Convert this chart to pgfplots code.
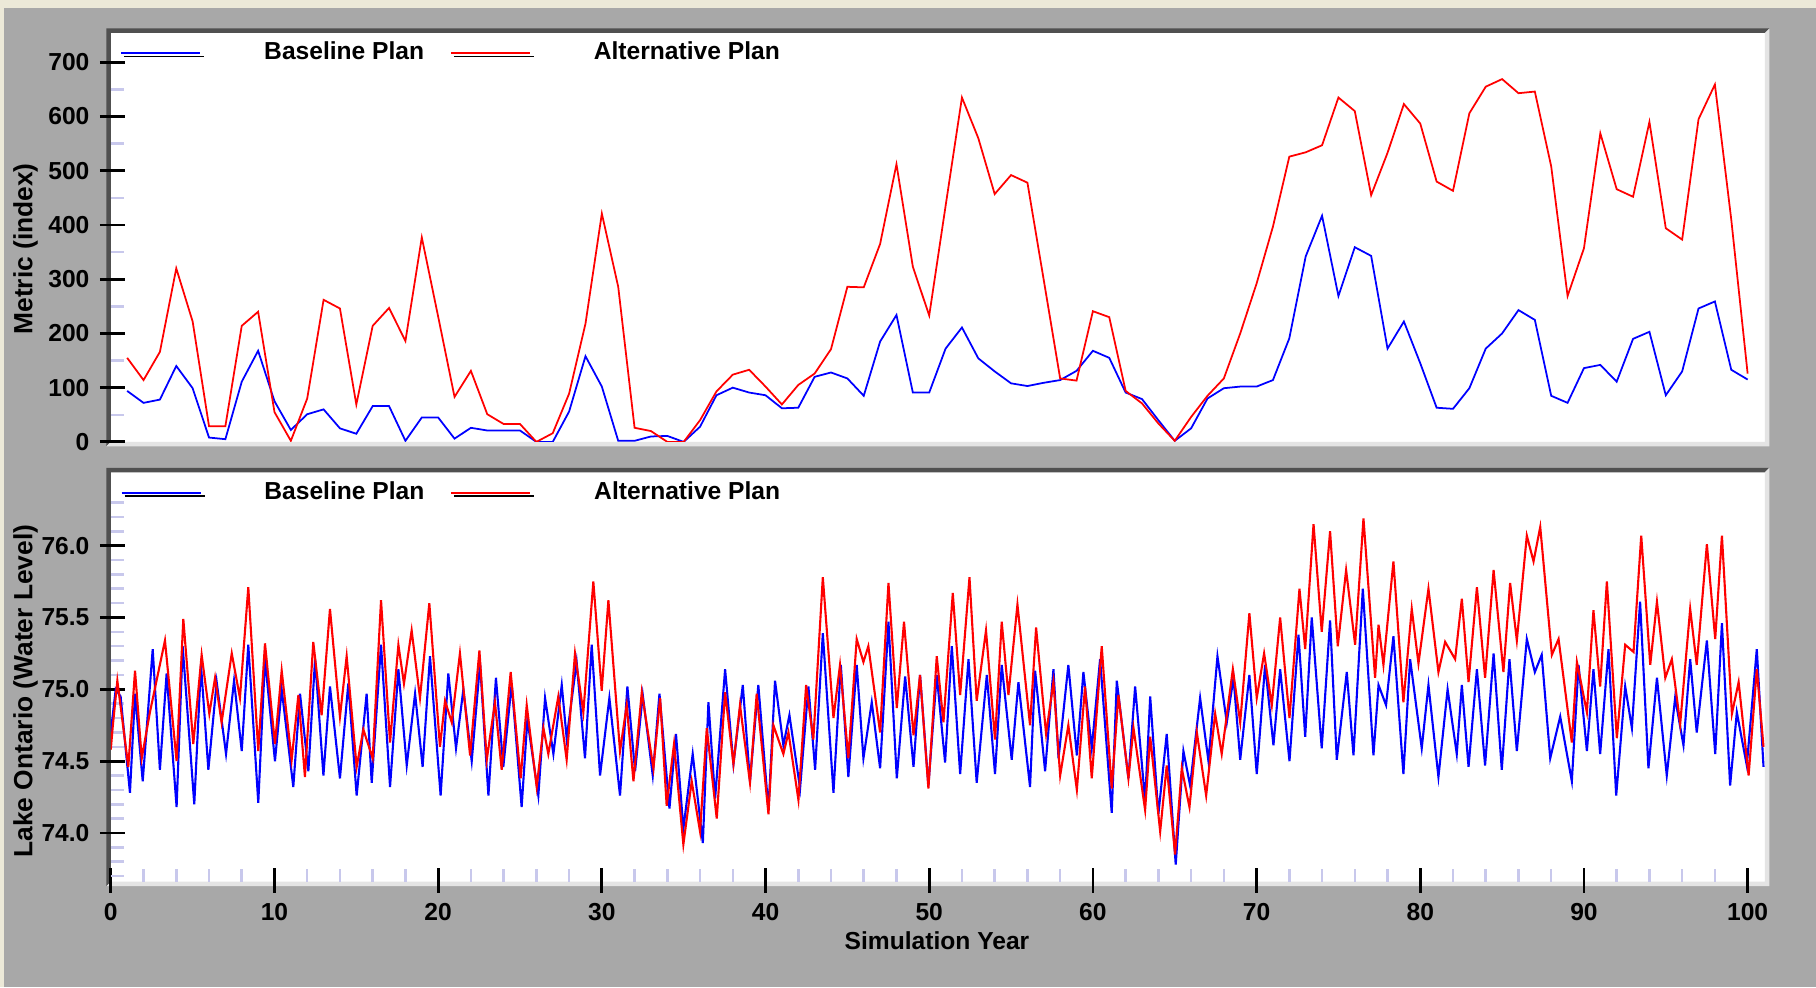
\documentclass[border=0pt]{standalone}
\usepackage{pgfplots}
\pgfplotsset{compat=1.18}
\usepackage{pgfplotstable}
\usepackage{fontspec}
\setmainfont{Liberation Sans}
\definecolor{bggray}{HTML}{A8A8A8}
\definecolor{beige}{HTML}{ECE9D8}
\definecolor{framedark}{HTML}{505050}
\definecolor{framelight}{HTML}{E4E4E4}
\definecolor{lav}{HTML}{C8C8EC}

\newcommand\panelframe[4]{%
 \fill[white] (#1,#2) rectangle (#3,#4);
 \fill[framedark] (#1-0.045,#4+0.045) -- (#3+0.045,#4+0.045) -- (#3,#4) -- (#1,#4) -- (#1,#2) -- (#1-0.045,#2-0.045) -- cycle;
 \fill[framelight] (#3+0.045,#4+0.045) -- (#3+0.045,#2-0.045) -- (#1-0.045,#2-0.045) -- (#1,#2) -- (#3,#2) -- (#3,#4) -- cycle;}

\pgfplotstableread{
year base alt
1 94 155
2 72 114
3 78 166
4 140 320
5 99 222
6 8 29
7 5 29
8 111 214
9 168 240
10 75 55
11 22 2
12 51 80
13 60 262
14 25 246
15 15 69
16 66 214
17 66 247
18 2 186
19 45 377
20 45 231
21 6 83
22 26 131
23 21 51
24 21 33
25 21 33
26 0 0
27 0 16
28 56 89
29 158 218
30 102 421
31 2 286
32 2 26
33 10 20
34 11 0
35 0 0
36 28 40
37 86 93
38 100 124
39 91 133
40 86 102
41 62 69
42 63 105
43 120 126
44 128 171
45 117 286
46 85 285
47 185 365
48 234 512
49 91 323
50 91 233
51 172 435
52 211 635
53 154 560
54 130 457
55 108 492
56 103 478
57 109 298
58 114 117
59 131 113
60 168 241
61 155 230
62 91 94
63 79 71
64 40 34
65 2 2
66 25 46
67 80 85
68 99 117
69 102 200
70 102 292
71 114 397
72 191 526
73 342 534
74 417 547
75 269 635
76 359 610
77 343 455
78 172 533
79 222 623
80 145 587
81 63 480
82 61 463
83 99 606
84 172 655
85 200 669
86 243 643
87 225 646
88 85 508
89 72 269
90 136 357
91 142 569
92 111 466
93 190 452
94 203 590
95 86 394
96 130 373
97 246 595
98 259 659
99 133 410
100 115 126
}\toptable

\pgfplotstableread{
year level
0.00 74.70
0.30 75.00
0.60 74.95
1.17 74.28
1.48 74.97
1.95 74.36
2.56 75.28
3.00 74.44
3.41 75.11
4.02 74.18
4.39 75.30
5.10 74.20
5.51 75.17
5.96 74.44
6.47 75.05
7.04 74.55
7.53 75.06
8.00 74.57
8.40 75.31
9.01 74.21
9.42 75.21
10.03 74.50
10.44 75.00
11.15 74.32
11.56 74.97
12.07 74.43
12.48 75.21
12.99 74.40
13.39 75.02
14.00 74.38
14.51 75.04
15.02 74.26
15.63 74.97
15.94 74.35
16.51 75.31
17.06 74.32
17.57 75.14
18.08 74.47
18.59 74.97
19.05 74.46
19.50 75.23
20.15 74.26
20.62 75.11
21.09 74.59
21.54 75.00
22.05 74.50
22.56 75.18
23.07 74.26
23.53 75.08
23.98 74.46
24.49 75.04
25.10 74.18
25.45 74.79
26.12 74.26
26.53 74.94
27.04 74.55
27.55 75.03
27.85 74.66
28.46 75.19
28.97 74.52
29.38 75.31
29.89 74.40
30.46 74.94
31.11 74.26
31.56 75.02
32.03 74.43
32.50 74.96
33.11 74.40
33.52 74.97
34.13 74.17
34.53 74.69
34.98 74.03
35.55 74.55
36.17 73.93
36.51 74.91
36.92 74.24
37.53 75.14
38.04 74.48
38.61 75.03
39.05 74.36
39.56 75.03
40.18 74.16
40.58 75.06
41.09 74.61
41.46 74.82
42.11 74.31
42.62 75.02
43.03 74.44
43.50 75.39
44.15 74.28
44.60 75.17
45.06 74.39
45.57 75.17
45.98 74.52
46.49 74.91
47.00 74.45
47.51 75.47
48.02 74.38
48.53 75.09
49.04 74.46
49.44 75.10
49.95 74.33
50.46 75.10
50.97 74.49
51.38 75.30
51.89 74.41
52.40 75.21
52.90 74.35
53.52 75.10
54.02 74.41
54.43 75.17
55.04 74.51
55.45 75.05
56.16 74.32
56.47 75.13
57.08 74.43
57.59 75.14
57.90 74.52
58.50 75.17
59.02 74.54
59.42 75.12
59.93 74.59
60.44 75.21
61.15 74.14
61.46 75.06
62.17 74.38
62.58 75.02
63.19 74.22
63.50 74.95
64.00 74.13
64.51 74.69
65.06 73.78
65.53 74.57
65.94 74.33
66.55 74.94
67.06 74.50
67.61 75.23
68.18 74.77
68.59 75.08
69.00 74.51
69.56 75.10
70.01 74.41
70.52 75.17
71.03 74.61
71.44 75.14
72.01 74.50
72.56 75.38
72.97 74.67
73.37 75.50
73.98 74.59
74.49 75.48
74.90 74.51
75.51 75.12
75.92 74.54
76.49 75.70
77.14 74.54
77.45 75.03
77.91 74.89
78.36 75.37
78.97 74.41
79.38 75.21
80.09 74.59
80.50 75.03
81.11 74.39
81.67 75.00
82.23 74.55
82.54 75.03
82.95 74.46
83.46 75.14
83.96 74.47
84.48 75.25
84.98 74.44
85.45 75.21
85.90 74.57
86.51 75.35
87.00 75.12
87.42 75.24
87.94 74.52
88.55 74.81
89.26 74.36
89.67 75.17
90.18 74.57
90.58 75.14
90.99 74.55
91.50 75.28
91.97 74.26
92.52 75.02
92.93 74.73
93.43 75.61
93.94 74.45
94.46 75.08
95.06 74.40
95.57 74.94
96.08 74.61
96.49 75.21
96.89 74.70
97.51 75.34
98.02 74.55
98.43 75.46
98.93 74.33
99.34 74.84
99.95 74.47
100.56 75.28
100.97 74.46
}\baselevel

\pgfplotstableread{
year level
0.00 74.58
0.11 74.73
0.40 75.06
1.07 74.46
1.48 75.13
1.89 74.52
2.39 74.84
3.31 75.34
4.02 74.50
4.43 75.49
5.04 74.62
5.55 75.24
6.02 74.83
6.37 75.08
6.77 74.77
7.39 75.25
7.89 74.94
8.40 75.71
9.01 74.57
9.42 75.32
10.03 74.62
10.44 75.13
11.05 74.51
11.46 74.96
11.86 74.39
12.37 75.33
12.88 74.82
13.39 75.56
14.00 74.81
14.41 75.23
15.02 74.46
15.43 74.72
16.00 74.52
16.51 75.62
17.06 74.63
17.57 75.31
17.91 75.04
18.38 75.41
18.89 74.94
19.46 75.60
20.11 74.60
20.42 74.92
20.83 74.77
21.33 75.25
21.95 74.54
22.52 75.27
22.97 74.51
23.47 74.91
23.88 74.44
24.43 75.12
25.04 74.38
25.41 74.89
26.02 74.32
26.43 74.73
26.73 74.55
27.34 74.95
27.85 74.51
28.36 75.25
28.87 74.84
29.48 75.75
29.99 74.99
30.40 75.62
31.11 74.57
31.52 74.89
31.93 74.36
32.44 74.98
33.15 74.45
33.56 74.94
33.96 74.19
34.41 74.62
34.98 73.92
35.49 74.36
36.00 74.01
36.41 74.73
37.02 74.10
37.53 74.98
38.04 74.48
38.44 74.89
39.05 74.35
39.46 74.97
40.18 74.13
40.48 74.75
41.09 74.55
41.40 74.70
42.01 74.23
42.48 75.03
42.92 74.65
43.50 75.78
44.15 74.80
44.55 75.17
45.06 74.52
45.57 75.35
45.98 75.19
46.28 75.30
47.00 74.70
47.51 75.74
48.02 74.87
48.46 75.47
49.04 74.68
49.44 75.10
49.95 74.31
50.46 75.23
50.87 74.77
51.44 75.67
51.89 74.96
52.46 75.78
52.90 74.92
53.47 75.41
54.02 74.65
54.43 75.47
54.84 74.96
55.39 75.59
56.16 74.75
56.53 75.43
57.14 74.69
57.59 75.05
58.00 74.40
58.50 74.75
59.02 74.30
59.52 75.02
59.93 74.38
60.54 75.30
61.15 74.31
61.56 74.96
62.17 74.38
62.48 74.73
63.19 74.16
63.50 74.67
64.11 74.01
64.51 74.47
65.02 73.85
65.43 74.45
65.90 74.18
66.35 74.70
66.92 74.26
67.47 74.83
67.87 74.55
68.55 75.14
69.00 74.77
69.56 75.53
70.01 74.94
70.46 75.25
70.93 74.89
71.44 75.50
72.01 74.80
72.62 75.70
72.97 75.28
73.48 76.15
73.98 75.40
74.49 76.10
74.96 75.30
75.47 75.83
76.02 75.31
76.53 76.19
77.24 75.08
77.45 75.45
77.75 75.17
78.36 75.89
78.97 74.91
79.48 75.56
79.89 75.18
80.50 75.70
81.11 75.12
81.52 75.33
82.13 75.21
82.54 75.63
82.95 75.05
83.46 75.71
83.96 75.08
84.48 75.83
85.08 75.12
85.49 75.74
85.90 75.34
86.51 76.07
86.92 75.89
87.33 76.13
88.04 75.24
88.45 75.35
89.26 74.63
89.57 75.19
90.18 74.84
90.58 75.55
90.99 75.02
91.40 75.75
92.01 74.66
92.52 75.31
93.03 75.26
93.50 76.07
94.05 75.17
94.46 75.61
94.97 75.08
95.37 75.21
95.88 74.76
96.49 75.56
96.89 75.17
97.51 76.01
98.02 75.35
98.43 76.07
99.04 74.83
99.45 75.05
100.06 74.40
100.56 75.14
100.97 74.60
}\altlevel

\pgfplotsset{
 panel/.style={
  scale only axis, width=16.54cm, height=4.089cm, anchor=south west,
  xmin=0, xmax=101.05,
  axis line style={draw=none},
  ytick pos=left,
  tick align=inside,
  major tick length=1.4mm, minor tick length=1.3mm,
  major tick style={black, line width=0.28mm},
  minor tick style={lav, line width=0.25mm},
  extra tick style={tick align=outside, major tick length=1.1mm},
  tick label style={font=\fontsize{7}{8}\selectfont\bfseries},
  yticklabel style={xshift=-0.9mm},
  /pgf/number format/assume math mode=true,
  label style={font=\fontsize{7.5}{9}\selectfont\bfseries},
  legend columns=2,
  legend style={at={(axis description cs:0.0059,0.951)}, anchor=west,
    draw=none, fill=none, inner sep=0pt, outer sep=0pt,
    font=\fontsize{7}{8}\selectfont\bfseries,
    nodes={inner sep=0pt},
    /tikz/every odd column/.append style={column sep=5.9mm},
    /tikz/every even column/.append style={column sep=2.6mm}},
  legend image code/.code={%
    \draw[black, line width=0.45pt] (0.3mm,-0.33mm) -- (8.3mm,-0.33mm);
    \draw[##1] (0mm,0mm) -- (7.9mm,0mm);},
 }
}

\begin{document}
\begin{tikzpicture}
\fill[bggray] (0,0) rectangle (18.16,9.87);
\fill[beige] (0,9.79) rectangle (18.16,9.87);
\fill[beige] (0,0) rectangle (0.045,9.87);
\panelframe{1.108}{5.451}{17.648}{9.540}
\panelframe{1.108}{1.053}{17.648}{5.147}

\begin{axis}[panel,
  at={(1.108cm,5.451cm)},
  ymin=0, ymax=754,
  xtick=\empty,
  ytick={0,100,200,300,400,500,600,700},
  minor ytick={50,150,250,350,450,550,650},
  extra y ticks={0,100,200,300,400,500,600,700}, extra y tick labels={},
  ylabel={Metric (index)},
  ylabel style={at={(axis description cs:-0.0516,0.472)}, anchor=center},
]
\addplot[blue, line width=0.5pt] table[x=year, y=base] {\toptable};
\addplot[red, line width=0.5pt] table[x=year, y=alt] {\toptable};
\legend{Baseline Plan, Alternative Plan}
\end{axis}

\begin{axis}[panel,
  at={(1.108cm,1.053cm)},
  ymin=73.661, ymax=76.507,
  xtick={0,10,20,30,40,50,60,70,80,90,100},
  minor x tick num=4,
  xtick pos=bottom,
  xticklabel style={yshift=-0.95mm},
  ytick={74,74.5,75,75.5,76},
  minor ytick={73.7,73.8,73.9,74.1,74.2,74.3,74.4,74.6,74.7,74.8,74.9,75.1,75.2,75.3,75.4,75.6,75.7,75.8,75.9,76.1,76.2,76.3},
  yticklabel style={/pgf/number format/fixed, /pgf/number format/fixed zerofill, /pgf/number format/precision=1},
  extra y ticks={74,74.5,75,75.5,76}, extra y tick labels={},
  extra x ticks={0,10,20,30,40,50,60,70,80,90,100}, extra x tick labels={},
  ylabel={Lake Ontario (Water Level)},
  ylabel style={at={(axis description cs:-0.0516,0.466)}, anchor=center},
  xlabel={Simulation Year},
  xlabel style={at={(axis description cs:0.4995,-0.1436)}, anchor=center, font=\fontsize{7}{8}\selectfont\bfseries},
]
\addplot[blue, line width=0.6pt] table[x=year, y=level] {\baselevel};
\addplot[red, line width=0.6pt] table[x=year, y=level] {\altlevel};
\legend{Baseline Plan, Alternative Plan}
\end{axis}
\end{tikzpicture}
\end{document}
